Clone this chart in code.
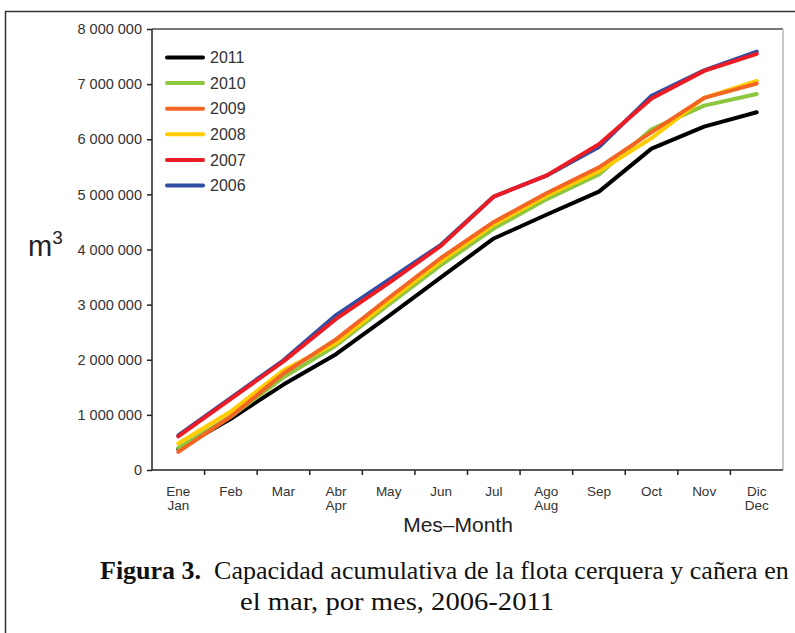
<!DOCTYPE html>
<html>
<head>
<meta charset="utf-8">
<script src="https://cdn.jsdelivr.net/npm/d3@7"></script>
<style>
  body { margin: 0; background: #fff; }
  svg { display: block; font-family: "Liberation Sans", Arial, sans-serif; }
  .axis-g text { fill: #333; }
  .axis-g .domain, .axis-g line { stroke: #222; }
  .caption { font-family: "Liberation Serif", "Times New Roman", serif; fill: #111; }
</style>
</head>
<body>
<div id="chart"></div>
<script>
const monthsEs = ["Ene", "Feb", "Mar", "Abr", "May", "Jun", "Jul", "Ago", "Sep", "Oct", "Nov", "Dic"];
const monthsEn = ["Jan", "Feb", "Mar", "Apr", "May", "Jun", "Jul", "Aug", "Sep", "Oct", "Nov", "Dec"];
const yTicks = [0, 1e6, 2e6, 3e6, 4e6, 5e6, 6e6, 7e6, 8e6];

// cumulative capacity, m3 (in millions)
const y2011 = [0.38, 0.93, 1.55, 2.10, 2.79, 3.50, 4.20, 4.63, 5.05, 5.83, 6.23, 6.49];
const y2010 = [0.40, 0.97, 1.68, 2.26, 3.00, 3.72, 4.38, 4.91, 5.36, 6.18, 6.61, 6.82];
const y2009 = [0.33, 0.97, 1.75, 2.37, 3.12, 3.85, 4.50, 5.02, 5.49, 6.13, 6.75, 7.01];
const y2008 = [0.48, 1.06, 1.81, 2.30, 3.06, 3.79, 4.45, 4.97, 5.42, 6.02, 6.75, 7.06];
const y2007 = [0.61, 1.29, 1.97, 2.74, 3.39, 4.07, 4.96, 5.34, 5.91, 6.74, 7.24, 7.55];
const y2006 = [0.63, 1.31, 1.99, 2.81, 3.45, 4.09, 4.96, 5.34, 5.86, 6.79, 7.25, 7.59];

const legendYears = ["2011", "2010", "2009", "2008", "2007", "2006"];
const colors = {
  "2011": "#000000",
  "2010": "#8dc63f",
  "2009": "#f26522",
  "2008": "#ffcc00",
  "2007": "#ed1c24",
  "2006": "#2e4fa3",
};

class CapacityChart {
  constructor({ el }) {
    this.el = el;
    this.width = 795;
    this.height = 633;
    this.marginTop = 29;
    this.marginRight = 12;
    this.marginBottom = 163;
    this.marginLeft = 152;
    this.setup();
    this.scaffold();
    this.render();
  }

  setup() {
    this.series = [
      { year: "2006", values: y2006 },
      { year: "2011", values: y2011 },
      { year: "2010", values: y2010 },
      { year: "2008", values: y2008 },
      { year: "2009", values: y2009 },
      { year: "2007", values: y2007 },
    ];
    const locale = d3.formatLocale({ decimal: ",", thousands: " ", grouping: [3], currency: ["", ""] });
    this.formatYTick = locale.format(",d");

    this.x = d3
      .scaleBand()
      .domain(d3.range(12))
      .range([this.marginLeft, this.width - this.marginRight]);
    this.y = d3
      .scaleLinear()
      .domain([0, 8e6])
      .range([this.height - this.marginBottom, this.marginTop]);

    this.line = d3
      .line()
      .x((_, i) => this.x(i) + this.x.bandwidth() / 2)
      .y((d) => this.y(d * 1e6));
  }

  scaffold() {
    this.svg = d3
      .select(this.el)
      .append("svg")
      .attr("width", this.width)
      .attr("height", this.height)
      .attr("viewBox", [0, 0, this.width, this.height]);
    this.gFrame = this.svg.append("g").attr("class", "frame-g");
    this.gLines = this.svg.append("g").attr("class", "lines-g");
    this.gX = this.svg.append("g").attr("class", "axis-g axis-g--x");
    this.gY = this.svg.append("g").attr("class", "axis-g axis-g--y");
    this.gLegend = this.svg.append("g").attr("class", "legend-g");
    this.gText = this.svg.append("g").attr("class", "text-g");
  }

  render() {
    this.renderFrame();
    this.renderLines();
    this.renderXAxis();
    this.renderYAxis();
    this.renderLegend();
    this.renderTexts();
  }

  renderFrame() {
    const [x0, x1] = this.x.range();
    const [y0, y1] = this.y.range();
    // outer figure box
    this.gFrame
      .append("path")
      .attr("d", `M5.5,${this.height + 5}V11.5H${this.width + 5}`)
      .attr("fill", "none")
      .attr("stroke", "#333")
      .attr("stroke-width", 1.5);
    // plot box, top and right sides
    this.gFrame
      .append("line")
      .attr("x1", x0).attr("x2", x1)
      .attr("y1", y1).attr("y2", y1)
      .attr("stroke", "#777")
      .attr("stroke-width", 2);
    this.gFrame
      .append("line")
      .attr("x1", x1).attr("x2", x1)
      .attr("y1", y1).attr("y2", y0)
      .attr("stroke", "#c8c8c8")
      .attr("stroke-width", 2);
  }

  renderLines() {
    this.gLines
      .selectAll(".line-path")
      .data(this.series)
      .join("path")
      .attr("class", "line-path")
      .attr("fill", "none")
      .attr("stroke", (d) => colors[d.year])
      .attr("stroke-width", 4)
      .attr("stroke-linejoin", "round")
      .attr("stroke-linecap", "round")
      .attr("d", (d) => this.line(d.values));
  }

  renderXAxis() {
    const y0 = this.y.range()[0];
    const x = this.x;
    this.gX.attr("transform", `translate(0,${y0})`);
    this.gX
      .append("line")
      .attr("x1", x.range()[0]).attr("x2", x.range()[1])
      .attr("stroke", "#222")
      .attr("stroke-width", 1.5);
    // ticks sit on the boundaries between months
    this.gX
      .selectAll(".tick-line")
      .data(d3.range(1, 12))
      .join("line")
      .attr("class", "tick-line")
      .attr("x1", (i) => x(i)).attr("x2", (i) => x(i))
      .attr("y1", 0).attr("y2", 5)
      .attr("stroke-width", 1.5);
    const labels = this.gX
      .selectAll(".tick-label")
      .data(d3.range(12))
      .join("g")
      .attr("class", "tick-label")
      .attr("text-anchor", "middle")
      .attr("font-size", 13.5)
      .attr("transform", (i) => `translate(${x(i) + x.bandwidth() / 2},0)`);
    labels
      .append("text")
      .attr("y", 25.5)
      .text((i) => monthsEs[i]);
    labels
      .filter((i) => monthsEs[i] !== monthsEn[i])
      .append("text")
      .attr("y", 39.5)
      .text((i) => monthsEn[i]);
  }

  renderYAxis() {
    this.gY
      .attr("transform", `translate(${this.marginLeft},0)`)
      .call(
        d3
          .axisLeft(this.y)
          .tickValues(yTicks)
          .tickFormat(this.formatYTick)
          .tickSize(5)
          .tickPadding(5)
      )
      .call((g) => g.select(".domain").attr("d", `M0,${this.y(8e6)}V${this.y(0)}`).attr("stroke-width", 1.5))
      .call((g) => g.selectAll(".tick line").attr("stroke-width", 1.5))
      .call((g) => g.selectAll(".tick text").attr("font-size", 14.5))
      .call((g) => g.attr("font-family", null).attr("font-size", null));
  }

  renderLegend() {
    const item = this.gLegend
      .selectAll(".legend-item")
      .data(legendYears)
      .join("g")
      .attr("class", "legend-item")
      .attr("transform", (d, i) => `translate(167,${57.5 + i * 25.6})`);
    item
      .append("line")
      .attr("x1", 0).attr("x2", 36)
      .attr("stroke", (d) => colors[d])
      .attr("stroke-width", 4)
      .attr("stroke-linecap", "round");
    item
      .append("text")
      .attr("x", 43)
      .attr("dy", "0.36em")
      .attr("font-size", 16)
      .attr("fill", "#333")
      .text((d) => d);
  }

  renderTexts() {
    const mLabel = this.gText
      .append("text")
      .attr("x", 28)
      .attr("y", 256)
      .attr("font-size", 29)
      .attr("fill", "#222");
    mLabel.append("tspan").text("m");
    mLabel.append("tspan").attr("font-size", 19).attr("dy", -12).text("3");

    this.gText
      .append("text")
      .attr("x", 458)
      .attr("y", 532)
      .attr("text-anchor", "middle")
      .attr("font-size", 21)
      .attr("fill", "#222")
      .text("Mes\u2013Month");

    const cap1 = this.gText
      .append("text")
      .attr("class", "caption")
      .attr("x", 100)
      .attr("y", 579)
      .attr("font-size", 26);
    cap1.append("tspan").attr("font-weight", "bold").text("Figura 3.");
    cap1.append("tspan").text("\u00a0 Capacidad acumulativa de la flota cerquera y cañera en");

    this.gText
      .append("text")
      .attr("class", "caption")
      .attr("x", 240)
      .attr("y", 610)
      .attr("font-size", 26)
      .attr("textLength", 314)
      .attr("lengthAdjust", "spacingAndGlyphs")
      .text("el mar, por mes, 2006-2011");
  }
}

new CapacityChart({ el: document.getElementById("chart") });
</script>
</body>
</html>
